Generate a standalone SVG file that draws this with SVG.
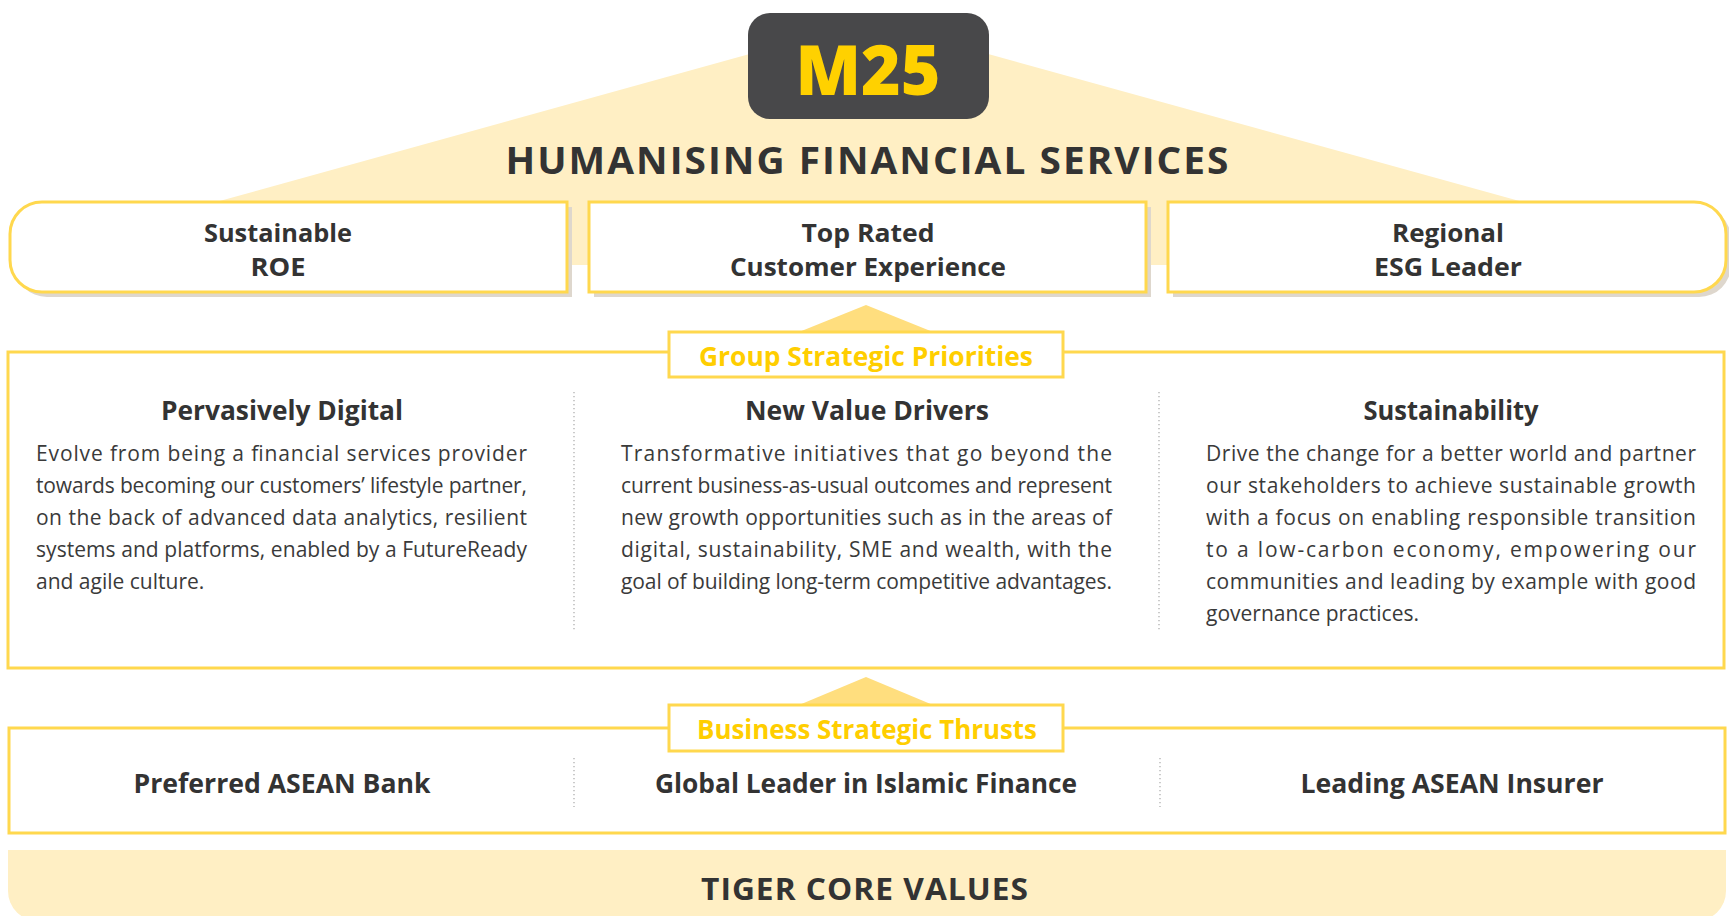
<svg xmlns="http://www.w3.org/2000/svg" width="1729" height="916" viewBox="0 0 1729 916">
<style>
.bg{fill:#FFEFC4}
.tri{fill:#FFDE7E}
.box{fill:#fff;stroke:#FFD84E;stroke-width:3}
.shadow{fill:#DED7CD}
.div{stroke:#A8A8A8;stroke-width:1.2;stroke-dasharray:1.2 2.8}
.t{font-family:"Open Sans","Noto Sans",sans-serif;fill:#333333}
.b{font-weight:700}
.c{text-anchor:middle}
.y{fill:#FFCE00}
.g{font-size:24.5px}
.body{font-family:"Open Sans","Noto Sans",sans-serif;font-size:21px;fill:#3a3a3a}
</style>
<rect width="1729" height="916" fill="#fff"/>
<g id="background">
  <polygon class="bg" points="869,21 1523,202 1523,265 216,265 216,202"/>
</g>
<g id="connectors">
  <polygon class="tri" points="866,305 933,332 799,332"/>
  <polygon class="tri" points="866,677 933,705 799,705"/>
</g>
<g id="m25">
  <rect x="748" y="13" width="241" height="106" rx="22" fill="#48484A"/>
  <text class="t c" x="868" y="95" font-size="69" style="fill:#FFD100;font-weight:800" textLength="145" lengthAdjust="spacingAndGlyphs">M25</text>
</g>
<g id="title">
  <text class="t b c" x="868" y="174" font-size="38" letter-spacing="2" textLength="725" lengthAdjust="spacingAndGlyphs">HUMANISING FINANCIAL SERVICES</text>
</g>
<g id="goal-roe">
  <path class="shadow" d="M47,207 H572 V297 H47 A32,32 0 0 1 15,265 V239 A32,32 0 0 1 47,207 Z"/>
  <path class="box" d="M42,202 H567 V292 H42 A32,32 0 0 1 10,260 V234 A32,32 0 0 1 42,202 Z"/>
  <text class="t b c g" x="278" y="242" textLength="148" lengthAdjust="spacingAndGlyphs">Sustainable</text>
  <text class="t b c g" x="278" y="276" textLength="55" lengthAdjust="spacingAndGlyphs">ROE</text>
</g>
<g id="goal-cx">
  <rect class="shadow" x="594" y="207" width="557" height="90"/>
  <rect class="box" x="589" y="202" width="557" height="90"/>
  <text class="t b c g" x="868" y="242" textLength="133" lengthAdjust="spacingAndGlyphs">Top Rated</text>
  <text class="t b c g" x="868" y="276" textLength="276" lengthAdjust="spacingAndGlyphs">Customer Experience</text>
</g>
<g id="goal-esg">
  <path class="shadow" d="M1173,207 H1699 A32,32 0 0 1 1731,239 V265 A32,32 0 0 1 1699,297 H1173 Z"/>
  <path class="box" d="M1168,202 H1694 A32,32 0 0 1 1726,234 V260 A32,32 0 0 1 1694,292 H1168 Z"/>
  <text class="t b c g" x="1448" y="242" textLength="112" lengthAdjust="spacingAndGlyphs">Regional</text>
  <text class="t b c g" x="1448" y="276" textLength="148" lengthAdjust="spacingAndGlyphs">ESG Leader</text>
</g>
<g id="priorities">
  <rect class="box" x="8" y="352" width="1716" height="316"/>
  <line class="div" x1="574" y1="392" x2="574" y2="632"/>
  <line class="div" x1="1159" y1="392" x2="1159" y2="632"/>
  <rect class="box" x="669" y="332" width="394" height="45"/>
  <text class="t b c y" x="866" y="366" font-size="26" textLength="334" lengthAdjust="spacingAndGlyphs">Group Strategic Priorities</text>
</g>
<g id="pervasively-digital">
  <text class="t b c" x="282" y="420" font-size="26" textLength="242" lengthAdjust="spacingAndGlyphs">Pervasively Digital</text>
  <text class="body" x="36" y="461" textLength="491" lengthAdjust="spacing">Evolve from being a financial services provider</text>
  <text class="body" x="36" y="493" textLength="491" lengthAdjust="spacing">towards becoming our customers’ lifestyle partner,</text>
  <text class="body" x="36" y="525" textLength="491" lengthAdjust="spacing">on the back of advanced data analytics, resilient</text>
  <text class="body" x="36" y="557" textLength="491" lengthAdjust="spacing">systems and platforms, enabled by a FutureReady</text>
  <text class="body" x="36" y="589">and agile culture.</text>
</g>
<g id="new-value-drivers">
  <text class="t b c" x="867" y="420" font-size="26" textLength="244" lengthAdjust="spacingAndGlyphs">New Value Drivers</text>
  <text class="body" x="621" y="461" textLength="491" lengthAdjust="spacing">Transformative initiatives that go beyond the</text>
  <text class="body" x="621" y="493" textLength="491" lengthAdjust="spacing">current business-as-usual outcomes and represent</text>
  <text class="body" x="621" y="525" textLength="491" lengthAdjust="spacing">new growth opportunities such as in the areas of</text>
  <text class="body" x="621" y="557" textLength="491" lengthAdjust="spacing">digital, sustainability, SME and wealth, with the</text>
  <text class="body" x="621" y="589" textLength="491" lengthAdjust="spacing">goal of building long-term competitive advantages.</text>
</g>
<g id="sustainability">
  <text class="t b c" x="1451" y="420" font-size="26" textLength="175" lengthAdjust="spacingAndGlyphs">Sustainability</text>
  <text class="body" x="1206" y="461" textLength="490" lengthAdjust="spacing">Drive the change for a better world and partner</text>
  <text class="body" x="1206" y="493" textLength="490" lengthAdjust="spacing">our stakeholders to achieve sustainable growth</text>
  <text class="body" x="1206" y="525" textLength="490" lengthAdjust="spacing">with a focus on enabling responsible transition</text>
  <text class="body" x="1206" y="557" textLength="490" lengthAdjust="spacing">to a low-carbon economy, empowering our</text>
  <text class="body" x="1206" y="589" textLength="490" lengthAdjust="spacing">communities and leading by example with good</text>
  <text class="body" x="1206" y="621">governance practices.</text>
</g>
<g id="thrusts">
  <rect class="box" x="9" y="728" width="1716" height="105"/>
  <line class="div" x1="574" y1="758" x2="574" y2="807"/>
  <line class="div" x1="1160" y1="758" x2="1160" y2="807"/>
  <rect class="box" x="669" y="705" width="394" height="46"/>
  <text class="t b c y" x="867" y="739" font-size="26" textLength="340" lengthAdjust="spacingAndGlyphs">Business Strategic Thrusts</text>
</g>
<g id="thrust-bank">
  <text class="t b c" x="282" y="793" font-size="26" textLength="297" lengthAdjust="spacingAndGlyphs">Preferred ASEAN Bank</text>
</g>
<g id="thrust-islamic">
  <text class="t b c" x="866" y="793" font-size="26" textLength="422" lengthAdjust="spacingAndGlyphs">Global Leader in Islamic Finance</text>
</g>
<g id="thrust-insurer">
  <text class="t b c" x="1452" y="793" font-size="26" textLength="303" lengthAdjust="spacingAndGlyphs">Leading ASEAN Insurer</text>
</g>
<g id="core-values">
  <path class="bg" d="M8,850 H1726 V891 A30,30 0 0 1 1696,921 H38 A30,30 0 0 1 8,891 Z"/>
  <text class="t b c" x="865" y="900" font-size="31" letter-spacing="1" textLength="328" lengthAdjust="spacingAndGlyphs">TIGER CORE VALUES</text>
</g>
</svg>
